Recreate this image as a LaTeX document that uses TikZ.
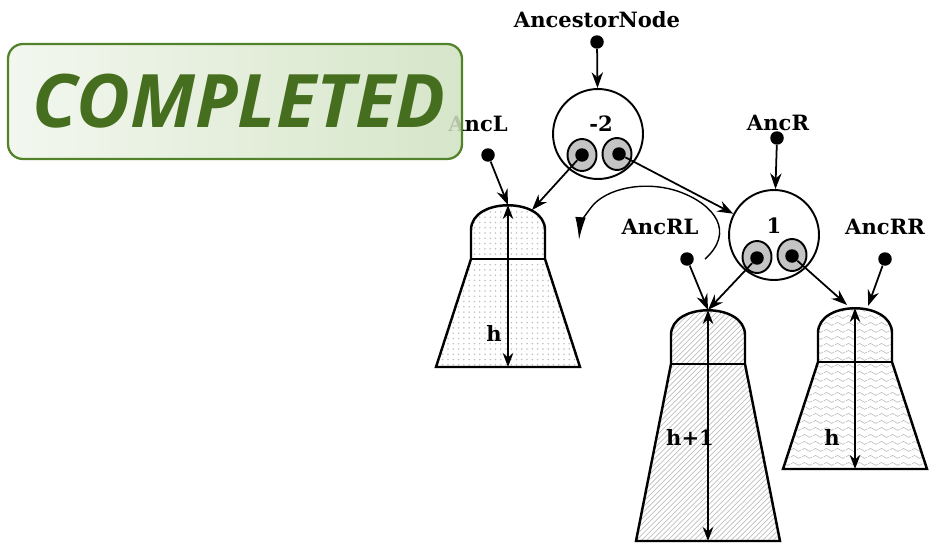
\documentclass[tikz,border=0pt]{standalone}
\usepackage{fontspec}
\setmainfont{DejaVu Serif}
\newfontfamily\stampfont{Open Sans}
\usetikzlibrary{arrows.meta,patterns,shapes.geometric}
\definecolor{stampgreen}{HTML}{466E1F}
\definecolor{stampedge}{HTML}{52822A}
\definecolor{stamplight}{HTML}{F3F7EF}
\definecolor{stampdark}{HTML}{D6E6C9}
\definecolor{slotgray}{HTML}{C4C4C4}

\pgfdeclarepatternformonly{waves}{\pgfpointorigin}{\pgfpoint{6pt}{4pt}}{\pgfpoint{6pt}{4pt}}{%
  \pgfsetlinewidth{0.4pt}
  \pgfpathmoveto{\pgfpoint{0pt}{2pt}}
  \pgfpathcurveto{\pgfpoint{1pt}{3.3pt}}{\pgfpoint{2pt}{3.3pt}}{\pgfpoint{3pt}{2pt}}
  \pgfpathcurveto{\pgfpoint{4pt}{0.7pt}}{\pgfpoint{5pt}{0.7pt}}{\pgfpoint{6pt}{2pt}}
  \pgfusepath{stroke}}

% subtree: name, x, top, bottom, pattern
\newcommand\avltree[5]{%
  \coordinate (#1) at (#2,#3);
  \coordinate (#1-b) at (#2,#4);
  \path[treeline,pattern=#5,pattern color=gray!50]
    (#2-37,#3+54) -- (#2-37,#3+25) .. controls (#2-37,#3-8) and (#2+37,#3-8) .. (#2+37,#3+25)
    -- (#2+37,#3+54) -- (#2+72,#4) -- (#2-72,#4) -- cycle;
  \draw[treeline] (#2-37,#3+54) -- (#2+37,#3+54);
  \draw[dimline] (#1) -- (#1-b);
}

\begin{document}
\begin{tikzpicture}[x=0.02cm,y=-0.02cm,>=Stealth,
    lbl/.style={font=\bfseries\fontsize{12}{14}\selectfont},
    ptr/.style={circle,fill,inner sep=0pt,minimum size=0.27cm},
    bal/.style={circle,draw,line width=1.1pt,minimum size=1.8cm,inner sep=0pt},
    slot/.style={ellipse,draw,fill=slotgray,line width=1.1pt,minimum width=0.58cm,minimum height=0.64cm,inner sep=0pt},
    link/.style={line width=1pt,-{Stealth[length=9pt,width=6.5pt]}},
    treeline/.style={draw,line width=1.4pt},
    dimline/.style={line width=1pt,{Stealth[length=8pt,width=6pt]}-{Stealth[length=8pt,width=6pt]}},
    stampfill/.style={rounded corners=0.3cm,left color=stamplight,right color=stampdark}]
  \useasboundingbox (0,0) rectangle (929,544);

  \avltree{tl}{508}{205}{367}{dots}
  \avltree{tm}{708}{310}{541}{north east lines}
  \avltree{tr}{855}{308}{469}{waves}
  \coordinate (tl-r) at (532,210);
  \coordinate (tr-l) at (847,305);
  \coordinate (tr-r) at (868,306);
  \node[lbl] at (494,333) {h};
  \node[lbl] at (690,437) {h+1};
  \node[lbl] at (832,437) {h};

  \node[lbl] (lanc) at (597,20) {AncestorNode};
  \node[ptr] (anc) at (597,42) {};
  \node[lbl] (lancr) at (778,123) {AncR};
  \node[ptr] (ancr) at (777,138) {};
  \node[lbl] (lancrl) at (660,227) {AncRL};
  \node[ptr] (ancrl) at (687,259) {};
  \node[lbl] (lancrr) at (885,227) {AncRR};
  \node[ptr] (ancrr) at (885,259) {};
  \node[ptr] (ancl) at (488,155) {};

  \node[bal] (n2) at (598,134) {};
  \node[lbl] (v2) at (601,124) {-2};
  \node[slot] (s2l) at (582,155) {};
  \node[slot] (s2r) at (617,154) {};
  \node[ptr] (n2l) at (582,155) {};
  \node[ptr] (n2r) at (619,154) {};

  \node[bal] (n1) at (774,235) {};
  \node[lbl] (v1) at (774,226) {1};
  \node[slot] (s1l) at (757,257) {};
  \node[slot] (s1r) at (792,255) {};
  \node[ptr] (n1l) at (757,258) {};
  \node[ptr] (n1r) at (792,256) {};

  \draw[link] (anc) -- (n2);
  \draw[link] (ancl) -- (tl);
  \draw[link] (n2l) -- (tl-r);
  \draw[link] (n2r) -- (n1);
  \draw[link] (ancr) -- (n1);
  \draw[link] (ancrl) -- (tm);
  \draw[link] (n1l) -- (tm);
  \draw[link] (n1r) -- (tr-l);
  \draw[link] (ancrr) -- (tr-r);

  \draw[line width=0.8pt,-{Latex[length=13pt,width=6pt]}] (705,259)
    .. controls (735,232) and (715,205) .. (680,192)
    .. controls (650,181) and (612,186) .. (594,204)
    .. controls (586,213) and (580,225) .. (579,240);

  \path[stampfill] (8,44) rectangle (462,159);
  \node[lbl] (lancl) at (478,124) {AncL};
  \begin{scope}
    \clip[rounded corners=0.3cm] (8,44) rectangle (462,159);
    \path[stampfill,fill opacity=0.85] (8,44) rectangle (462,159);
  \end{scope}
  \draw[stampedge,line width=1.3pt,rounded corners=0.3cm] (8,44) rectangle (462,159);
  \node[text=stampgreen,font=\stampfont\bfseries\itshape\fontsize{42}{42}\selectfont] (stamp)
    at (239,101) {COMPLETED};
\end{tikzpicture}
\end{document}
